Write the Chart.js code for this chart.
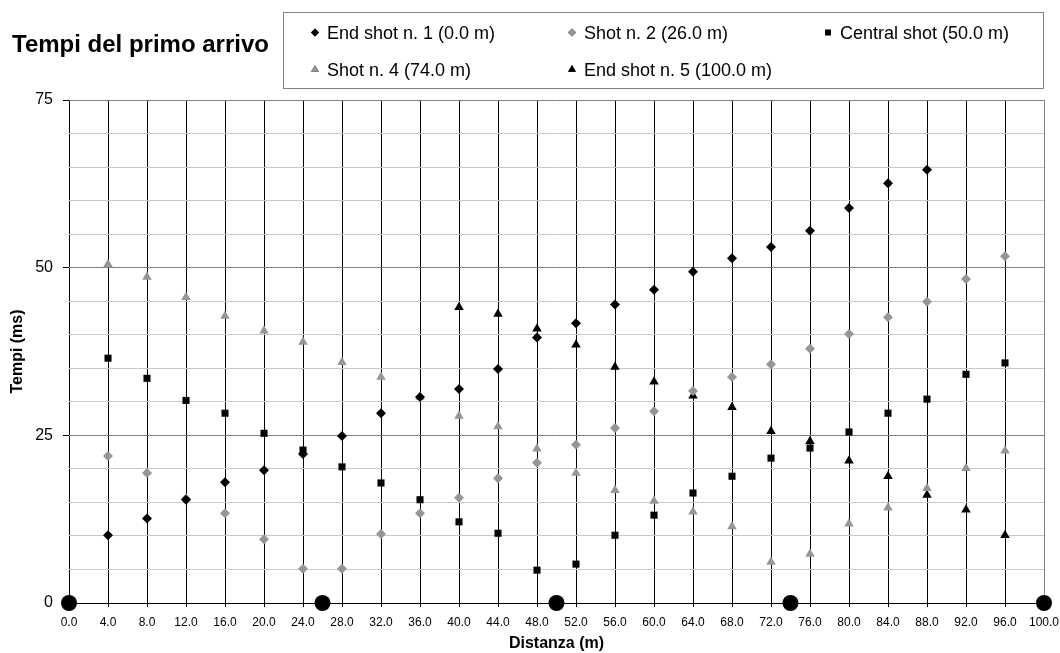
<!DOCTYPE html>
<html>
<head>
<meta charset="utf-8">
<script src="https://cdn.jsdelivr.net/npm/chart.js@4.4.1/dist/chart.umd.min.js"></script>
<style>
  html, body { margin: 0; padding: 0; background: #fff; }
  #wrap { width: 1060px; height: 653px; position: relative; }
</style>
</head>
<body>
<div id="wrap"><canvas id="mycanvas" width="1060" height="653"></canvas></div>
<script>
// distances (m)
var distanze = [4,8,12,16,20,24,28,32,36,40,44,48,52,56,60,64,68,72,76,80,84,88,92,96];
var distShot1 = [4,8,12,16,20,24,28,32,36,40,44,48,52,56,60,64,68,72,76,80,84,88];
var distShot5 = [40,44,48,52,56,60,64,68,72,76,80,84,88,92,96];
var xTicks = [0,4,8,12,16,20,24,28,32,36,40,44,48,52,56,60,64,68,72,76,80,84,88,92,96,100];

// first arrival times (ms)
var shot1 = [10.1,12.6,15.4,18.0,19.8,22.2,24.9,28.3,30.7,31.9,34.9,39.6,41.7,44.5,46.7,49.4,51.4,53.1,55.5,58.9,62.6,64.6];
var shot2 = [21.9,19.4,15.6,13.4,9.5,5.1,5.1,10.3,13.4,15.7,18.6,20.9,23.6,26.1,28.6,31.6,33.7,35.6,37.9,40.1,42.6,44.9,48.3,51.7];
var central = [36.5,33.5,30.2,28.3,25.3,22.8,20.3,17.9,15.4,12.1,10.4,4.9,5.8,10.1,13.1,16.4,18.9,21.6,23.1,25.5,28.3,30.4,34.1,35.8];
var shot4 = [50.5,48.6,45.6,42.8,40.6,38.9,35.9,33.7,30.7,27.9,26.3,23.0,19.4,16.8,15.2,13.6,11.4,6.1,7.3,11.8,14.2,17.1,20.1,22.7];
var shot5 = [44.1,43.1,40.9,38.5,35.2,33.0,30.9,29.2,25.6,24.1,21.2,18.9,16.1,13.9,10.1];

// shot positions on the ground
var shotPos = [0,26,50,74,100];

var labels = ["End shot n. 1 (0.0 m)", "Shot n. 2 (26.0 m)", "Central shot (50.0 m)", "Shot n. 4 (74.0 m)", "End shot n. 5 (100.0 m)"];

function pts(xs, ys) {
  var out = [];
  for (var i in ys) out.push({x: xs[i], y: ys[i]});
  return out;
}

var FONT = "'Liberation Sans', Arial, sans-serif";

var datasets = [
  { label: labels[0], data: pts(distShot1, shot1), pointStyle: 'rectRot', pointRadius: 5, backgroundColor: '#000', borderColor: '#000' },
  { label: labels[1], data: pts(distanze, shot2), pointStyle: 'rectRot', pointRadius: 5, backgroundColor: '#969696', borderColor: '#969696' },
  { label: labels[2], data: pts(distanze, central), pointStyle: 'rect', pointRadius: 5, backgroundColor: '#000', borderColor: '#000' },
  { label: labels[3], data: pts(distanze, shot4), pointStyle: 'triangle', pointRadius: 5.5, backgroundColor: '#969696', borderColor: '#969696' },
  { label: labels[4], data: pts(distShot5, shot5), pointStyle: 'triangle', pointRadius: 5.5, backgroundColor: '#000', borderColor: '#000' },
  { label: 'shots', data: shotPos.map(function(x){ return {x: x, y: 0}; }), pointStyle: 'circle', pointRadius: 8, backgroundColor: '#000', borderColor: '#000', hideInLegend: true }
];
datasets.forEach(function(d){ d.borderWidth = 0; d.showLine = false; d.clip = false; d.pointHoverRadius = d.pointRadius; });

// title + boxed legend in three columns
var headerPlugin = {
  id: 'header',
  afterDraw: function(chart) {
    var c = chart.ctx;
    c.save();
    c.fillStyle = '#000';
    c.font = 'bold 24px ' + FONT;
    c.textBaseline = 'alphabetic';
    c.textAlign = 'left';
    c.fillText('Tempi del primo arrivo', 12, 52);

    c.strokeStyle = '#808080';
    c.lineWidth = 1;
    c.strokeRect(283.5, 12.5, 760, 76);

    var cols = [327, 584, 840];
    var rows = [39, 76];
    c.font = '18px ' + FONT;
    var k = 0;
    chart.data.datasets.forEach(function(ds) {
      if (ds.hideInLegend) return;
      var tx = cols[k % 3], ty = rows[Math.floor(k / 3)];
      Chart.helpers.drawPoint(c, {pointStyle: ds.pointStyle, radius: ds.pointStyle === 'triangle' ? 4.5 : 4, rotation: 0, borderWidth: 0}, tx - 12, ty - 6.5);
      c.fillStyle = ds.backgroundColor;
      c.fill();
      c.fillStyle = '#000';
      c.fillText(ds.label, tx, ty);
      k++;
    });
    c.restore();
  }
};

var ctx = document.getElementById('mycanvas');
var chart = new Chart(ctx, {
  type: 'scatter',
  data: { datasets: datasets },
  plugins: [headerPlugin],
  options: {
    responsive: false,
    animation: false,
    events: [],
    layout: { padding: { left: 0, top: 100, right: 16, bottom: 0 } },
    plugins: { legend: { display: false }, tooltip: { enabled: false } },
    scales: {
      x: {
        type: 'linear', min: 0, max: 100,
        afterBuildTicks: function(scale) { scale.ticks = xTicks.map(function(v){ return {value: v}; }); },
        afterFit: function(scale) { scale.height = 50; scale.paddingLeft = 0; scale.paddingRight = 0; },
        border: { display: false },
        grid: {
          tickLength: 4,
          tickColor: '#000',
          color: function(c) { return c.tick && c.tick.value === 100 ? '#808080' : '#000'; }
        },
        ticks: {
          padding: 8, color: '#000', maxRotation: 0, autoSkip: false,
          font: { family: FONT, size: 12 },
          callback: function(v) { return Number(v).toFixed(1); }
        },
        title: { display: true, text: 'Distanza (m)', color: '#000', font: { family: FONT, size: 16, weight: 'bold' }, padding: { top: 0, bottom: 0 } }
      },
      y: {
        type: 'linear', min: 0, max: 75,
        afterFit: function(scale) { scale.width = 69; },
        border: { display: false },
        grid: {
          tickLength: 6,
          tickColor: function(c) { return c.tick && c.tick.value % 25 === 0 ? '#000' : 'rgba(0,0,0,0)'; },
          color: function(c) {
            if (!c.tick) return '#c8c8c8';
            if (c.tick.value === 0) return '#000';
            return c.tick.value % 25 === 0 ? '#808080' : '#c8c8c8';
          }
        },
        ticks: {
          stepSize: 5, padding: 10, color: '#000',
          font: { family: FONT, size: 16 },
          callback: function(v) { return v % 25 === 0 ? String(v) : ''; }
        },
        title: { display: true, text: 'Tempi (ms)', color: '#000', font: { family: FONT, size: 16, weight: 'bold' }, padding: { top: 8, bottom: 0 } }
      }
    }
  }
});
</script>
</body>
</html>
